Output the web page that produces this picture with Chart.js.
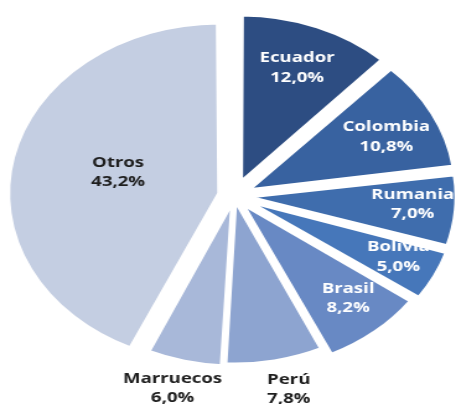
<!DOCTYPE html>
<html>
<head>
<meta charset="utf-8">
<script src="https://cdn.jsdelivr.net/npm/chart.js@4.4.1/dist/chart.umd.min.js"></script>
<style>
  html, body { margin: 0; padding: 0; background: #fff; overflow: hidden; }
  #wrap { width: 368px; height: 404px; transform: scaleX(1.2391); transform-origin: 0 0; }
</style>
</head>
<body>
<div id="wrap"><canvas id="chart" width="368" height="404"></canvas></div>
<script>
// data
const countries = ['Ecuador', 'Colombia', 'Rumania', 'Bolivia', 'Brasil', 'Perú', 'Marruecos', 'Otros'];
const shares = [12.0, 10.8, 7.0, 5.0, 8.2, 7.8, 6.0, 43.2];

const colors = ['#2d4d82', '#3862a0', '#3f6dad', '#4677ba', '#6889c4', '#8da4d0', '#a8b8d9', '#c4cee2'];
// slice explode (chart.js divides by 4 when drawing)
const explode = [56, 48, 40, 40, 36, 12, 16, 48];
// label distance from centre, as part of radius, plus a small nudge
const labelPos = [0.756, 0.77, 0.82, 0.84, 0.78, 1.18, 1.18, 0.53];
const labelNudge = [[0, 0], [0, 4], [0, -4], [0, -5], [4, -3], [6, 0], [-3, 0], [3, -3]];
const labelDark = [false, false, false, false, false, true, true, true];

const pieLabels = {
    id: 'pieLabels',
    afterDatasetsDraw(chart) {
        const ctx = chart.ctx;
        const meta = chart.getDatasetMeta(0);
        ctx.save();
        ctx.font = 'bold 15px "Open Sans"';
        ctx.textAlign = 'center';
        ctx.textBaseline = 'middle';
        meta.data.forEach((arc, i) => {
            const p = arc.getProps(['x', 'y', 'startAngle', 'endAngle', 'outerRadius'], true);
            const mid = (p.startAngle + p.endAngle) / 2;
            const off = explode[i] / 4;
            const r = p.outerRadius * labelPos[i] + off;
            const x = p.x + Math.cos(mid) * r + labelNudge[i][0];
            const y = p.y + Math.sin(mid) * r + labelNudge[i][1];
            ctx.fillStyle = labelDark[i] ? '#1e1e1e' : '#ffffff';
            ctx.fillText(countries[i], x, y - 9.5);
            ctx.fillText(shares[i].toFixed(1).replace('.', ',') + '%', x, y + 10);
        });
        ctx.restore();
    }
};

new Chart(document.getElementById('chart').getContext('2d'), {
    type: 'pie',
    data: {
        labels: countries,
        datasets: [{
            data: shares,
            backgroundColor: colors,
            borderColor: '#ffffff',
            borderWidth: 4,
            offset: explode
        }]
    },
    options: {
        responsive: false,
        animation: false,
        radius: 164,
        layout: { padding: { left: 10, right: 0, top: 0, bottom: 12 } },
        plugins: {
            legend: { display: false },
            tooltip: { enabled: false }
        }
    },
    plugins: [pieLabels]
});
</script>
</body>
</html>
